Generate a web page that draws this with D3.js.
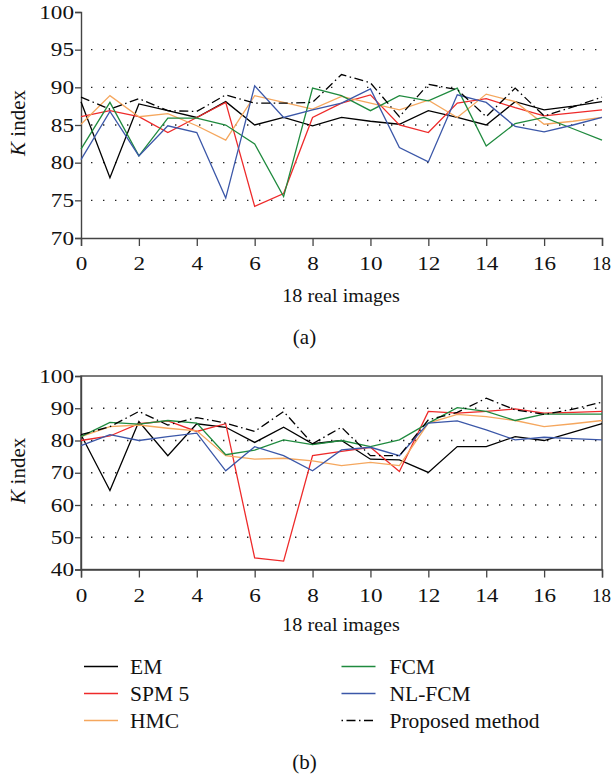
<!DOCTYPE html>
<html><head><meta charset="utf-8">
<script src="https://cdn.jsdelivr.net/npm/d3@7"></script>
<style>
body{margin:0;background:#fff;}
svg{display:block;}
text{font-family:"Liberation Serif","Times New Roman",serif;fill:#111;}
</style></head>
<body>
<svg id="c" width="612" height="778"></svg>
<script>
const images = d3.range(0, 19);
const seriesNames = ["EM","SPM 5","HMC","FCM","NL-FCM","Proposed method"];
const seriesColors = ["#000000","#ee2a2a","#f5a75e","#1f8a3e","#3b57a8","#000000"];

// Panel (a)
const emA       = [88.1,78.0,87.8,86.9,86.0,88.1,85.0,86.0,84.9,86.0,85.5,85.1,86.9,86.0,85.0,88.1,87.0,87.5,88.1];
const spmA      = [86.1,86.9,86.1,84.0,86.0,88.0,74.2,75.9,86.0,87.9,89.0,85.0,84.0,87.9,88.5,87.3,86.2,86.6,87.0];
const hmcA      = [85.1,88.9,86.1,86.5,84.9,83.0,88.9,88.0,87.1,88.8,87.9,87.0,88.3,86.0,89.1,88.1,85.1,85.5,86.0];
const fcmA      = [81.8,88.0,80.9,85.9,85.9,85.0,82.5,75.5,89.9,88.9,86.9,88.9,88.2,89.9,82.2,85.2,86.0,84.5,83.0];
const nlfcmA    = [80.4,86.8,80.9,84.9,84.0,75.3,90.2,86.0,87.0,87.9,89.8,82.0,80.1,89.0,88.0,84.8,84.1,85.0,86.0];
const proposedA = [88.7,87.1,88.5,86.9,86.8,89.0,87.9,87.9,88.0,91.7,90.6,86.1,90.4,89.7,86.1,89.9,86.2,87.4,88.7];
const yTicksA = [70,75,80,85,90,95,100];
const gridA = [75,80,85,90,95];

// Panel (b)
const emB       = [81.8,64.5,85.9,75.3,85.2,84.1,79.4,84.1,79.0,80.0,74.2,74.0,70.1,78.1,78.1,81.2,80.0,82.6,85.2];
const spmB      = [80.0,81.4,85.2,86.1,82.8,85.2,43.6,42.6,75.3,76.6,77.9,70.4,89.0,88.5,89.0,89.8,88.5,88.7,89.0];
const hmcB      = [81.2,84.3,84.8,83.8,83.0,75.3,74.2,74.5,73.7,72.2,73.2,72.2,85.4,88.1,87.4,86.2,84.3,85.2,86.2];
const fcmB      = [81.2,85.6,85.1,86.2,85.4,75.6,77.0,80.2,78.7,80.0,78.1,80.2,85.4,90.2,89.0,86.2,88.2,88.2,88.2];
const nlfcmB    = [78.4,81.8,80.0,81.2,82.3,70.6,78.1,75.3,70.6,77.1,77.9,75.3,85.4,86.1,83.3,80.2,81.0,80.6,80.2];
const proposedB = [81.8,84.3,89.0,84.8,87.1,85.4,82.8,89.0,79.0,84.1,75.3,75.3,86.4,88.7,93.1,89.5,88.1,89.7,91.9];
const yTicksB = [40,50,60,70,80,90,100];
const gridB = [50,60,70,80,90];

const xTicks = [0,2,4,6,8,10,12,14,16,18];

const svg = d3.select("#c");
const SX = 1.22; // horizontal stretch of tick digits

function panel(cfg){
  const g = svg.append("g");
  const x = d3.scaleLinear().domain([0,18]).range([81,602]);
  const y = d3.scaleLinear().domain(cfg.domain).range([cfg.bottom,cfg.top]);

  g.selectAll("line.grid").data(cfg.grid).enter().append("line")
    .attr("x1",91).attr("x2",600)
    .attr("y1",d=>y(d)).attr("y2",d=>y(d))
    .attr("stroke","#222").attr("stroke-width",1.4)
    .attr("stroke-dasharray","1.4,10.6");

  if(cfg.box){
    g.append("rect").attr("x",x(0)).attr("y",cfg.top)
      .attr("width",x(18)-x(0)).attr("height",cfg.bottom-cfg.top)
      .attr("fill","none").attr("stroke","#444").attr("stroke-width",1.4);
  }

  const ya = d3.axisLeft(y).tickValues(cfg.yTicks).tickSize(6).tickPadding(1).tickFormat(d3.format("d"));
  const yg = g.append("g").attr("transform",`translate(${x(0)},0)`).call(ya);
  const xa = d3.axisBottom(x).tickValues(xTicks).tickSize(8).tickPadding(11).tickFormat(d3.format("d"));
  const xg = g.append("g").attr("transform",`translate(0,${cfg.bottom})`).call(xa);
  [yg,xg].forEach(a=>{
    a.attr("font-family",null);
    a.select(".domain").attr("stroke","#444").attr("stroke-width",1.4);
    a.selectAll(".tick line").attr("stroke","#444").attr("stroke-width",1.3);
    a.selectAll("text").style("font-family","Liberation Serif, Times New Roman, serif")
      .style("font-size","19px").attr("fill","#111");
  });
  yg.selectAll(".tick text").attr("x",-7/SX).attr("transform",`scale(${SX},1)`);
  xg.selectAll(".tick text").attr("transform",d=>d===18?"translate(-1,0)":`scale(${SX},1)`);

  const line = d3.line().x((d,i)=>x(images[i])).y(d=>y(d));
  cfg.series.forEach((s,k)=>{
    g.append("path").datum(s).attr("d",line)
      .attr("fill","none").attr("stroke",seriesColors[k])
      .attr("stroke-width",1.3)
      .attr("stroke-dasharray",k===5?"9,3.5,1.5,3.5":null);
  });

  const yl = g.append("text")
    .attr("transform",`translate(24.5,${(cfg.top+cfg.bottom)/2 - 2}) rotate(-90)`)
    .attr("text-anchor","middle").style("font-size","21px");
  yl.append("tspan").style("font-style","italic").text("K");
  yl.append("tspan").text(" index");

  g.append("text").attr("transform",`translate(341,${cfg.titleY}) scale(1.12,1)`)
    .attr("text-anchor","middle").style("font-size","18px").text("18 real images");
  g.append("text").attr("x",304.5).attr("y",cfg.capY)
    .attr("text-anchor","middle").style("font-size","21px").text(cfg.cap);
}

panel({domain:[70,100],top:12,bottom:238,yTicks:yTicksA,grid:gridA,box:false,
  series:[emA,spmA,hmcA,fcmA,nlfcmA,proposedA],cap:"(a)",capY:344,titleY:302});
panel({domain:[40,100],top:376,bottom:569.5,yTicks:yTicksB,grid:gridB,box:true,
  series:[emB,spmB,hmcB,fcmB,nlfcmB,proposedB],cap:"(b)",capY:769,titleY:630.5});

// legend
const legCols = [{lx:84,tx:130},{lx:341.5,tx:389.5}];
const legRows = [666.5,693.5,720.5];
seriesNames.forEach((n,k)=>{
  const c = legCols[Math.floor(k/3)], yy = legRows[k%3];
  svg.append("line").attr("x1",c.lx).attr("x2",c.lx+34).attr("y1",yy).attr("y2",yy)
    .attr("stroke",seriesColors[k]).attr("stroke-width",1.3)
    .attr("stroke-dasharray",k===5?"1.5,3.5,9,3.5":null);
  svg.append("text").attr("x",c.tx).attr("y",yy+7.5).style("font-size","21.5px").text(n);
});
</script>
</body></html>
